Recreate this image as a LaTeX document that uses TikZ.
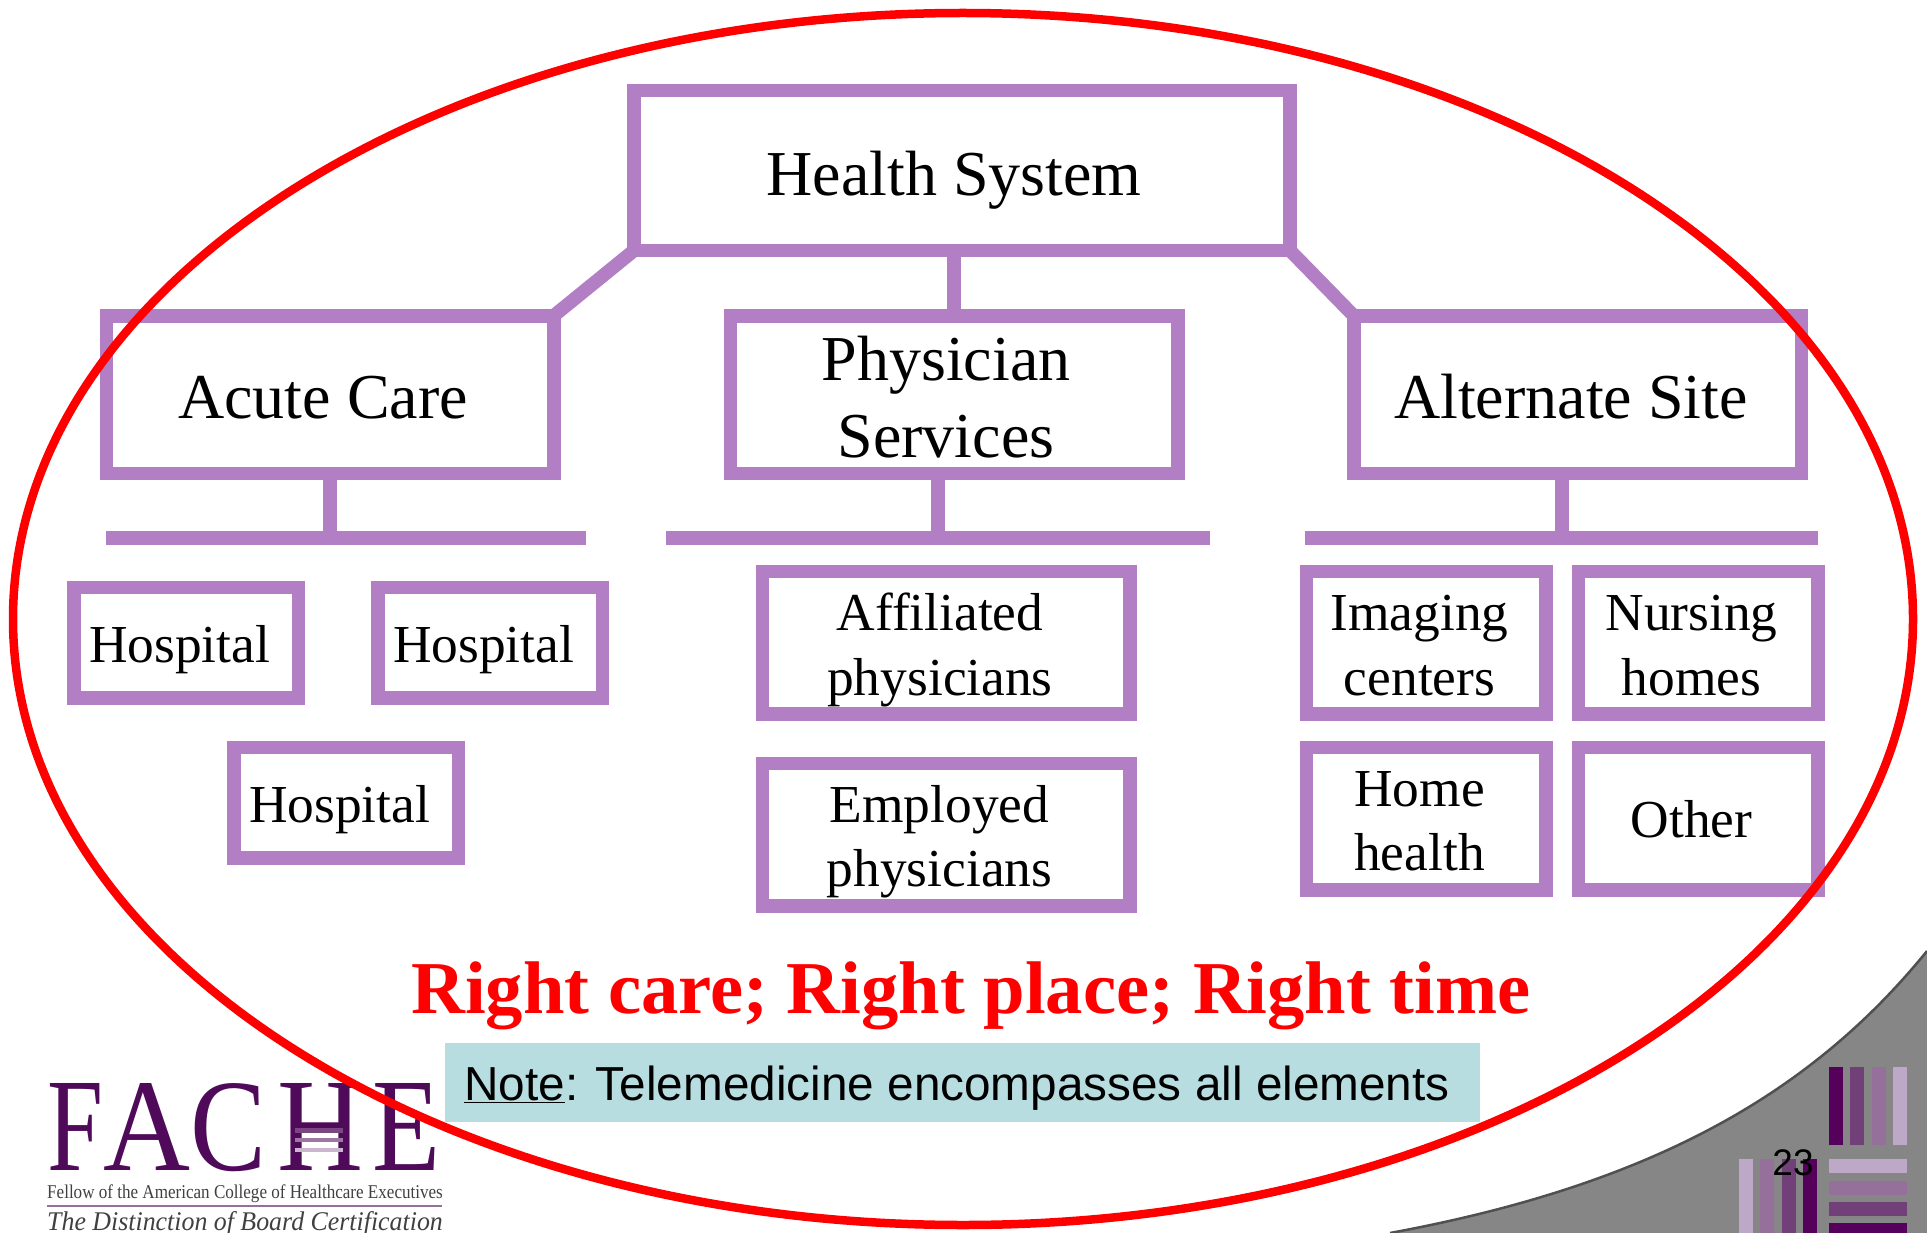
\documentclass[tikz,border=0pt]{standalone}
\usepackage{fontspec}
\usepackage{graphicx}
\setmainfont{Liberation Serif}
\setsansfont{Liberation Sans}
\definecolor{boxpurple}{HTML}{B27EC4}
\definecolor{notebg}{HTML}{B8DDE1}
\definecolor{cornergray}{HTML}{868686}
\definecolor{logopurple}{HTML}{4F0A5A}
\definecolor{barA}{HTML}{55005A}
\definecolor{barB}{HTML}{714078}
\definecolor{barC}{HTML}{94709B}
\definecolor{barD}{HTML}{BDA8C8}
\newcommand{\fsz}[1]{\fontsize{#1}{#1}\selectfont}
\newcommand{\logoletter}[2]{\resizebox{#1pt}{87pt}{#2}}
\tikzset{
  orgbox/.style={draw=boxpurple,line width=13.5pt,outer sep=0pt,inner sep=0pt,rectangle},
  orgline/.style={draw=boxpurple,line width=13.5pt},
  bigtxt/.style={inner sep=0pt,align=center,font=\fsz{64}},
  smalltxt/.style={inner sep=0pt,align=center,font=\fsz{53.4}},
  logotxt/.style={inner sep=0pt,anchor=base west,text=logopurple,font=\fsz{40}},
}
\begin{document}
\begin{tikzpicture}[x=1pt,y=-1pt]
\useasboundingbox (0,0) rectangle (1927,1233);
% grey corner
\begin{scope}
\clip (0,0) rectangle (1927,1233);
\fill[cornergray] (1390,1233) .. controls (1650,1185) and (1810,1095) .. (1927,951) -- (1927,1233) -- cycle;
\draw[cornergray!60!black,line width=2.5pt] (1390,1233) .. controls (1650,1185) and (1810,1095) .. (1927,951);
\foreach \x/\c in {1829/barA,1850/barB,1871.5/barC,1893/barD}
  \fill[\c] (\x,1067) rectangle ++(14,78);
\foreach \y/\c in {1159.3/barD,1180.7/barC,1202/barB,1223/barA}
  \fill[\c] (1829,\y) rectangle ++(78,14);
\foreach \x/\c in {1739/barD,1760/barC,1781.5/barB,1802.7/barA}
  \fill[\c] (\x,1159.3) rectangle ++(14,80);
\end{scope}
\node[inner sep=0pt,font=\sffamily\fsz{37}] (pagenum) at (1793,1163) {23};
% main boxes
\node[orgbox,minimum width=656pt,minimum height=160pt] (health) at (962,170.5) {};
\node[orgbox,minimum width=447.5pt,minimum height=157.5pt] (acute) at (330,394.5) {};
\node[orgbox,minimum width=447.5pt,minimum height=157.5pt] (phys) at (954,394.5) {};
\node[orgbox,minimum width=447.5pt,minimum height=157.5pt] (alt) at (1577.5,394.5) {};
\node[bigtxt] (healthT) at (954,180) {Health System};
\node[bigtxt] (acuteT) at (323,398) {Acute Care};
\node[bigtxt] (physT) at (946,397) {Physician\\[13pt]Services};
\node[bigtxt] (altT) at (1571,397) {Alternate Site};
% connectors top
\draw[orgline] (health.south west) -- (acute.north east);
\draw[orgline] (health.south east) -- (alt.north west);
\draw[orgline] (phys.north) -- (phys.north |- health.south);
% bars
\coordinate (b1l) at (106,538); \coordinate (b1r) at (586,538);
\coordinate (b2l) at (666,538); \coordinate (b2r) at (1210,538);
\coordinate (b3l) at (1305,538); \coordinate (b3r) at (1818,538);
\draw[orgline] (b1l) -- (b1r);
\draw[orgline] (b2l) -- (b2r);
\draw[orgline] (b3l) -- (b3r);
\draw[orgline] (acute.south) -- (acute.south |- b1l);
\draw[orgline] ([xshift=-16pt]phys.south) -- ([xshift=-16pt]phys.south |- b2l);
\draw[orgline] ([xshift=-15.5pt]alt.south) -- ([xshift=-15.5pt]alt.south |- b3l);
% small boxes
\node[orgbox,minimum width=224.5pt,minimum height=110.5pt] (h1) at (186,642.5) {};
\node[orgbox,minimum width=224.5pt,minimum height=110.5pt] (h2) at (490,642.5) {};
\node[orgbox,minimum width=224.5pt,minimum height=110.5pt] (h3) at (346,802.5) {};
\node[orgbox,minimum width=367.5pt,minimum height=142.5pt] (aff) at (946,642.5) {};
\node[orgbox,minimum width=367.5pt,minimum height=142.5pt] (emp) at (946,834.5) {};
\node[orgbox,minimum width=239.5pt,minimum height=142.5pt] (img) at (1426,642.5) {};
\node[orgbox,minimum width=239.5pt,minimum height=142.5pt] (nur) at (1698,642.5) {};
\node[orgbox,minimum width=239.5pt,minimum height=142.5pt] (home) at (1426,818.5) {};
\node[orgbox,minimum width=239.5pt,minimum height=142.5pt] (oth) at (1698,818.5) {};
\node[smalltxt] (h1T) at (179.5,650) {Hospital};
\node[smalltxt] (h2T) at (483.5,650) {Hospital};
\node[smalltxt] (h3T) at (339.5,810) {Hospital};
\node[smalltxt] (affT) at (940,650) {Affiliated\\[11pt]physicians};
\node[smalltxt] (empT) at (939.5,842) {Employed\\[11pt]physicians};
\node[smalltxt] (imgT) at (1419.5,645.5) {Imaging\\[11pt]centers};
\node[smalltxt] (nurT) at (1691.5,645.5) {Nursing\\[11pt]homes};
\node[smalltxt] (homeT) at (1419.5,821) {Home\\[11pt]health};
\node[smalltxt] (othT) at (1691.5,819.5) {Other};
% slogan & note
\node[inner sep=0pt,text=red,font=\bfseries\fsz{74.6}] (slogan) at (971,996) {Right care; Right place; Right time};
\node[fill=notebg,inner sep=0pt,minimum width=1035pt,minimum height=79pt] (notebox) at (962.5,1082.5) {};
\node[inner sep=0pt,font=\sffamily\fsz{47.7}] (noteT) at (957,1088) {\underline{Note}: Telemedicine encompasses all elements};
% logo
\node[logotxt] (logoF) at (47,1170) {\logoletter{56}{F}};
\node[logotxt] (logoA) at (103,1170) {\logoletter{87}{A}};
\node[logotxt] (logoC) at (190.5,1170) {\logoletter{76}{C}};
\node[logotxt] (logoH) at (277,1170) {\logoletter{86}{H}};
\node[logotxt] (logoE) at (372,1170) {\logoletter{68}{E}};
\fill[logopurple!75] (295,1128) rectangle (343,1133);
\fill[logopurple!55] (295,1138) rectangle (343,1142);
\fill[logopurple!30] (295,1148) rectangle (343,1152);
\node[inner sep=0pt,anchor=base west,text=black!75,font=\fsz{19.5}] (fellow) at (47,1198) {\scalebox{0.875}[1]{Fellow of the American College of Healthcare Executives}};
\draw[barC,line width=1.2pt] (47,1206) -- (442,1206);
\node[inner sep=0pt,anchor=base west,text=black!75,font=\itshape\fsz{27}] (dist) at (47,1230) {\scalebox{0.958}[1]{The Distinction of Board Certification}};
% ellipse
\draw[red,line width=8.5pt] (963,619) ellipse [x radius=950,y radius=606];
\end{tikzpicture}
\end{document}
